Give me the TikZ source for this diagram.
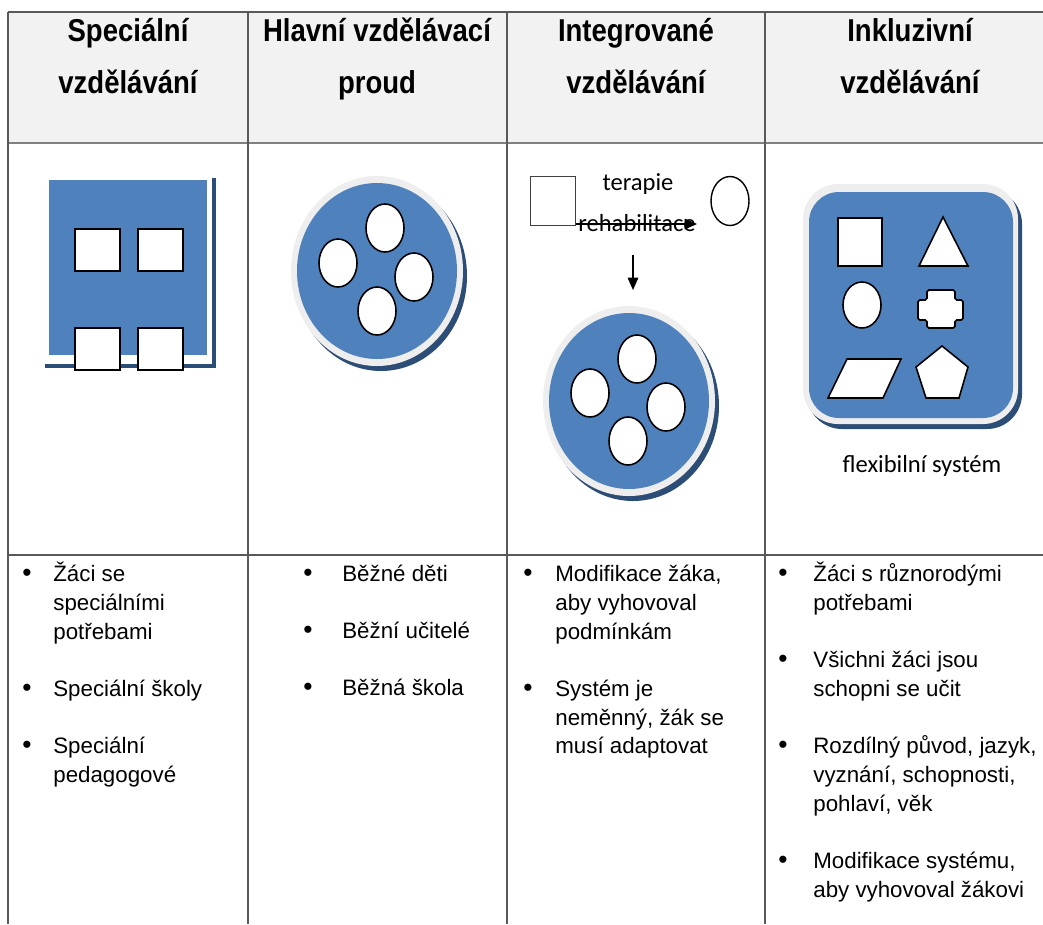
\documentclass[tikz,border=0pt]{standalone}
\usepackage{fontspec}
\setmainfont{Liberation Sans}
\newfontfamily\headfont[FakeStretch=0.87]{Liberation Sans}
\newfontfamily\notefont{Carlito}
\usetikzlibrary{arrows.meta,shapes.geometric}
\definecolor{boxblue}{HTML}{4F81BD}
\definecolor{darkblue}{HTML}{2C4D75}
\definecolor{ringgray}{HTML}{EEEEEE}
\definecolor{headgray}{HTML}{F2F2F2}

\tikzset{
  tabline/.style={draw=black!65, line width=0.7pt},
  headtxt/.style={font=\headfont\bfseries\fontsize{18}{22}\selectfont, anchor=base, inner sep=0pt},
  bodytxt/.style={font=\fontsize{12.7}{15}\selectfont, anchor=base west, inner sep=0pt},
  bultxt/.style={font=\fontsize{15}{15}\selectfont, anchor=base, inner sep=0pt},
  notetxt/.style={font=\notefont\fontsize{14}{16}\selectfont, anchor=base, inner sep=0pt},
  hole/.style={fill=white, draw=black, line width=0.9pt},
  arr/.style={-{Triangle[length=7pt,width=6pt]}, line width=0.8pt}
}

\begin{document}
\begin{tikzpicture}[x=0.02cm, y=-0.02cm]
\useasboundingbox (0,0) rectangle (1043,924);

% header band and table lines
\fill[headgray] (8,12) rectangle (1043,143);
\draw[tabline] (8,12) -- (1043,12);
\draw[tabline, draw=black!50, line width=1.3pt] (8,143) -- (1043,143);
\draw[tabline] (8,555) -- (1043,555);
\draw[tabline] (8,12) -- (8,924);
\draw[tabline] (248,12) -- (248,924);
\draw[tabline] (507,12) -- (507,924);
\draw[tabline] (765,12) -- (765,924);

% column titles
\node[headtxt] (h1a) at (128,41) {Speciální};
\node[headtxt] (h1b) at (128,93) {vzdělávání};
\node[headtxt] (h2a) at (377,41) {Hlavní vzdělávací};
\node[headtxt] (h2b) at (377,93) {proud};
\node[headtxt] (h3a) at (636,41) {Integrované};
\node[headtxt] (h3b) at (636,93) {vzdělávání};
\node[headtxt] (h4a) at (910,41) {Inkluzivní};
\node[headtxt] (h4b) at (910,93) {vzdělávání};

% special: closed block
\fill[boxblue] (49,180) rectangle (207,355);
\draw[darkblue, line width=2pt] (45,366) -- (214,366) -- (214,178);
\draw[hole] (75,229) rectangle (120,271);
\draw[hole] (138,229) rectangle (183,271);
\draw[hole] (75,328) rectangle (120,370);
\draw[hole] (138,328) rectangle (183,370);

% mainstream: disc with ovals
\fill[darkblue] (381,276) ellipse [x radius=86, y radius=95];
\fill[ringgray] (377,271) ellipse [x radius=86, y radius=95];
\fill[boxblue] (377,271) ellipse [x radius=80, y radius=88];
\draw[hole] (385,228) ellipse [x radius=19, y radius=24];
\draw[hole] (338,263) ellipse [x radius=19, y radius=24];
\draw[hole] (414,277) ellipse [x radius=19, y radius=24];
\draw[hole] (377,311) ellipse [x radius=19, y radius=24];

% integrated: square made to fit
\node[draw=black!75, line width=0.8pt, minimum width=0.91cm, minimum height=0.98cm, inner sep=0pt] (sqT) at (553,201) {};
\node[ellipse, draw, line width=0.8pt, minimum width=0.76cm, minimum height=0.98cm, inner sep=0pt] (ovT) at (730,201) {};
\node[notetxt] (ter) at (638,190) {terapie};
\node[notetxt] (reh) at (637,231) {rehabilitace};
\coordinate (arEnd) at (697,224);
\draw[arr] (sqT.east |- arEnd) -- (arEnd);
\coordinate (dnTop) at (633,255);
\coordinate (dnTip) at (633,290);
\draw[arr] (dnTop) -- (dnTip);

\fill[darkblue] (633,406) ellipse [x radius=86, y radius=95];
\fill[ringgray] (629,401) ellipse [x radius=86, y radius=95];
\fill[boxblue] (629,401) ellipse [x radius=80, y radius=88];
\draw[hole] (637,359) ellipse [x radius=19, y radius=24];
\draw[hole] (590,393) ellipse [x radius=19, y radius=24];
\draw[hole] (666,407) ellipse [x radius=19, y radius=24];
\draw[hole] (628,441) ellipse [x radius=19, y radius=24];

% inclusive: board with all shapes
\fill[darkblue, rounded corners=0.7cm] (807,189) rectangle (1022,429);
\fill[ringgray, rounded corners=0.7cm] (803,184) rectangle (1018,424);
\fill[boxblue, rounded corners=0.6cm] (809,192) rectangle (1013,418);
\draw[hole] (838,218) rectangle (882,266);
\draw[hole] (943,217) -- (968,266) -- (919,266) -- cycle;
\draw[hole] (862,305) ellipse [x radius=19, y radius=23];
\draw[hole, rounded corners=1pt] (927,290) -- (955,290) -- (955,300) -- (963,300) -- (963,320) -- (955,320)
    -- (955,328) -- (927,328) -- (927,320) -- (918,320) -- (918,300) -- (927,300) -- cycle;
\draw[hole] (828,398) -- (847,359) -- (901,359) -- (883,398) -- cycle;
\draw[hole] (942,346) -- (968,367) -- (959,398) -- (926,398) -- (916,367) -- cycle;
\node[notetxt] (flex) at (922,472) {flexibilní systém};

% bullet lists
\node[bultxt] (b1a) at (27,581) {\textbullet};
\node[bodytxt] (t1a) at (53,581) {Žáci se};
\node[bodytxt] (t1b) at (53,610) {speciálními};
\node[bodytxt] (t1c) at (53,639) {potřebami};
\node[bultxt] (b1b) at (27,696) {\textbullet};
\node[bodytxt] (t1d) at (53,696) {Speciální školy};
\node[bultxt] (b1c) at (27,753) {\textbullet};
\node[bodytxt] (t1e) at (53,753) {Speciální};
\node[bodytxt] (t1f) at (53,782) {pedagogové};

\node[bultxt] (b2a) at (308,581) {\textbullet};
\node[bodytxt] (t2a) at (342,581) {Běžné děti};
\node[bultxt] (b2b) at (308,638) {\textbullet};
\node[bodytxt] (t2b) at (342,638) {Běžní učitelé};
\node[bultxt] (b2c) at (308,695) {\textbullet};
\node[bodytxt] (t2c) at (342,695) {Běžná škola};

\node[bultxt] (b3a) at (528,581) {\textbullet};
\node[bodytxt] (t3a) at (555,581) {Modifikace žáka,};
\node[bodytxt] (t3b) at (555,610) {aby vyhovoval};
\node[bodytxt] (t3c) at (555,639) {podmínkám};
\node[bultxt] (b3b) at (528,696) {\textbullet};
\node[bodytxt] (t3d) at (555,696) {Systém je};
\node[bodytxt] (t3e) at (555,725) {neměnný, žák se};
\node[bodytxt] (t3f) at (555,753) {musí adaptovat};

\node[bultxt] (b4a) at (783,581) {\textbullet};
\node[bodytxt] (t4a) at (813,581) {Žáci s různorodými};
\node[bodytxt] (t4b) at (813,610) {potřebami};
\node[bultxt] (b4b) at (783,667) {\textbullet};
\node[bodytxt] (t4c) at (813,667) {Všichni žáci jsou};
\node[bodytxt] (t4d) at (813,696) {schopni se učit};
\node[bultxt] (b4c) at (783,753) {\textbullet};
\node[bodytxt] (t4e) at (813,753) {Rozdílný původ, jazyk,};
\node[bodytxt] (t4f) at (813,782) {vyznání, schopnosti,};
\node[bodytxt] (t4g) at (813,811) {pohlaví, věk};
\node[bultxt] (b4d) at (783,868) {\textbullet};
\node[bodytxt] (t4h) at (813,868) {Modifikace systému,};
\node[bodytxt] (t4i) at (813,897) {aby vyhovoval žákovi};
\end{tikzpicture}
\end{document}
